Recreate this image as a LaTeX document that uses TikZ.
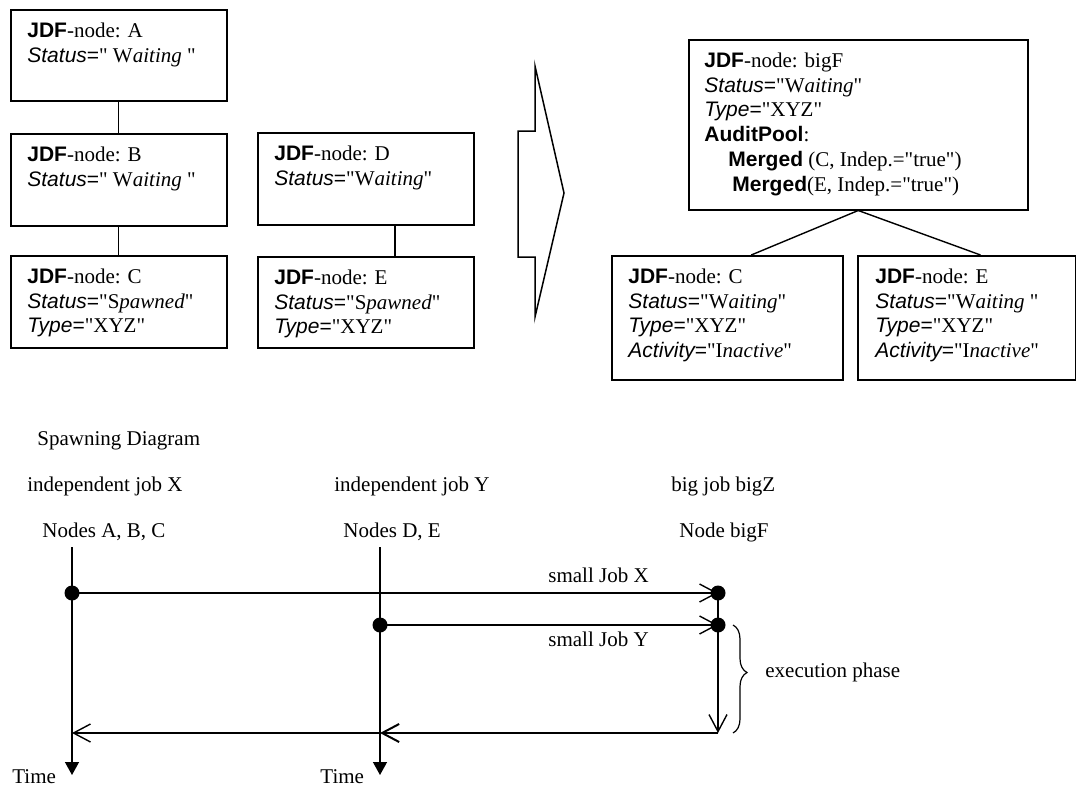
\documentclass[tikz,border=0pt]{standalone}
\usepackage{fontspec}
\setmainfont{Liberation Serif}[Ligatures=TeXOff]
\setsansfont{Liberation Sans}[Ligatures=TeXOff]
\usetikzlibrary{arrows.meta,decorations.pathreplacing}
\pgfdeclarelayer{bg}
\pgfsetlayers{bg,main}
\newcommand\jsb[1]{{\sffamily\bfseries #1}}
\newcommand\jsi[1]{{\sffamily\itshape #1}}
\newcommand\jeq{{\sffamily=}}
\begin{document}
\begin{tikzpicture}[x=0.5pt,y=-0.5pt,
  every node/.style={font=\fontsize{10.5}{12.4}\selectfont},
  jbox/.style={draw,line width=0.75pt,inner sep=0pt,anchor=north west},
  tx/.style={anchor=north west,inner sep=0pt,align=left},
  lbl/.style={anchor=base west,inner sep=0pt},
  ln/.style={line width=0.7pt},
  barb/.style={ln,-{Straight Barb[length=8.5pt,width=9pt]}},
  tl/.style={ln,-{Triangle[length=6.5pt,width=7pt]}},
  dot/.style={circle,fill=black,inner sep=0pt,minimum size=7.5pt}]
\useasboundingbox (0,0) rectangle (1076,787);

% ---------- left tree ----------
\node[jbox,minimum width=108pt,minimum height=45.5pt] (A) at (10,9) {};
\node[tx] (At) at ([shift={(17,10.6)}]A.north west)
  {\strut\jsb{JDF}-node: A\\\jsi{Status}\jeq" W\textit{aiting} "};
\node[jbox,minimum width=108pt,minimum height=46pt] (B) at (10,133) {};
\node[tx] (Bt) at ([shift={(17,10.6)}]B.north west)
  {\strut\jsb{JDF}-node: B\\\jsi{Status}\jeq" W\textit{aiting} "};
\node[jbox,minimum width=108pt,minimum height=46pt] (C) at (10,255) {};
\node[tx] (Ct) at ([shift={(17,10.6)}]C.north west)
  {\strut\jsb{JDF}-node: C\\\jsi{Status}\jeq"S\textit{pawned}"\\\jsi{Type}\jeq"XYZ"};
\node[jbox,minimum width=108pt,minimum height=46pt] (D) at (257,132) {};
\node[tx] (Dt) at ([shift={(17,10.6)}]D.north west)
  {\strut\jsb{JDF}-node: D\\\jsi{Status}\jeq"W\textit{aiting}"};
\node[jbox,minimum width=108pt,minimum height=45.5pt] (E) at (257,256) {};
\node[tx] (Et) at ([shift={(17,10.6)}]E.north west)
  {\strut\jsb{JDF}-node: E\\\jsi{Status}\jeq"S\textit{pawned}"\\\jsi{Type}\jeq"XYZ"};

\draw[ln] (A) -- (B);
\draw[ln] (B) -- (C);
\coordinate (dx) at (395,0);
\draw[ln] (D.south -| dx) -- (E.north -| dx);

% ---------- big arrow ----------
\draw[line width=0.75pt] (518,131) -- (535,131) -- (535,66) -- (564,193)
  -- (535,317) -- (535,257) -- (518,257) -- cycle;

% ---------- right tree ----------
\node[jbox,minimum width=169.5pt,minimum height=85pt] (F) at (688,39) {};
\node[tx] (Ft) at ([shift={(16,10.6)}]F.north west)
  {\strut\jsb{JDF}-node: bigF\\
   \jsi{Status}\jeq"W\textit{aiting}"\\
   \jsi{Type}\jeq"XYZ"\\
   \jsb{AuditPool}:\\
   \hspace*{12pt}\jsb{Merged} (C, Indep.="true")\\
   \hspace*{14pt}\jsb{Merged}(E, Indep.="true")};
\node[jbox,minimum width=115.5pt,minimum height=62pt] (C2) at (611,255) {};
\node[tx] (C2t) at ([shift={(17,10.6)}]C2.north west)
  {\strut\jsb{JDF}-node: C\\\jsi{Status}\jeq"W\textit{aiting}"\\\jsi{Type}\jeq"XYZ"\\\jsi{Activity}\jeq"I\textit{nactive}"};
\node[jbox,minimum width=108.75pt,minimum height=62pt] (E2) at (857,255) {};
\node[tx] (E2t) at ([shift={(18,10.6)}]E2.north west)
  {\strut\jsb{JDF}-node: E\\\jsi{Status}\jeq"W\textit{aiting} "\\\jsi{Type}\jeq"XYZ"\\\jsi{Activity}\jeq"I\textit{nactive}"};
\draw[ln] (F.south) -- ([xshift=12pt]C2.north);
\draw[ln] (F.south) -- ([xshift=7pt]E2.north);

% ---------- spawning diagram ----------
\node[lbl] (sd) at (37,445) {Spawning Diagram};
\node[lbl] (ijx) at (27,491) {independent job X};
\node[lbl] (nabc) at (42,537) {Nodes A, B, C};
\node[lbl] (ijy) at (334,491) {independent job Y};
\node[lbl] (nde) at (343,537) {Nodes D, E};
\node[lbl] (bjz) at (671,491) {big job bigZ};
\node[lbl] (nbf) at (679,537) {Node bigF};

\coordinate (xT) at (72,547);
\coordinate (xB) at (72,775);
\coordinate (yT) at (380,547);
\coordinate (yB) at (380,775);
\node[dot] (dX) at (72,593) {};
\node[dot] (dY) at (380,625) {};
\node[dot] (fX) at (718,593) {};
\node[dot] (fY) at (718,625) {};
\coordinate (fE) at (718,733);
\coordinate (rY) at (380,733);
\coordinate (rX) at (72,733);

\begin{pgfonlayer}{bg}
\draw[tl] (xT) -- (xB);
\draw[tl] (yT) -- (yB);
\draw[barb] (dX.center) -- (fX.center);
\draw[barb] (dY.center) -- (fY.center);
\draw[ln] (fX.center) -- (fY.center);
\draw[barb] (fY.center) -- (fE);
\draw[barb,line width=1pt] (fE) -- (rY);
\draw[barb] (rY) -- (rX);
\end{pgfonlayer}

\draw[line width=0.6pt,decorate,decoration={brace,amplitude=7pt,aspect=0.44}]
  (733,625) -- (733,733);

\node[lbl] (sjx) at (548,582) {small Job X};
\node[lbl] (sjy) at (548,646) {small Job Y};
\node[lbl] (exe) at (765,677) {execution phase};
\node[lbl] (t1) at (12,783) {Time};
\node[lbl] (t2) at (320,783) {Time};
\end{tikzpicture}
\end{document}
